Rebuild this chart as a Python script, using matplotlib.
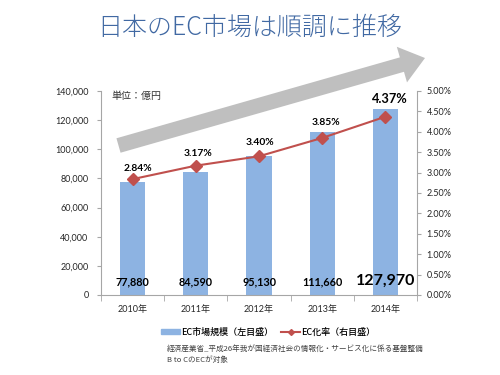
import matplotlib
matplotlib.use("Agg")
import matplotlib.pyplot as plt
from matplotlib.patches import FancyArrow, Patch
from matplotlib.lines import Line2D
from matplotlib.transforms import IdentityTransform
from matplotlib.ticker import FuncFormatter, MultipleLocator
import numpy as np

plt.rcParams['font.family'] = ['Lato', 'Noto Sans CJK JP', 'DejaVu Sans']

years = ["2010年", "2011年", "2012年", "2013年", "2014年"]
market = [77880, 84590, 95130, 111660, 127970]
market_labels = ["77,880", "84,590", "95,130", "111,660", "127,970"]
rate = [2.84, 3.17, 3.40, 3.85, 4.37]
rate_labels = ["2.84%", "3.17%", "3.40%", "3.85%", "4.37%"]
# label offsets (pixels): x, y above marker
rate_off = [(5, 11), (2, 12), (1, 14), (4, 15), (4, 18)]

BLUE = "#8DB3E2"
RED = "#C0504D"
GRAY = "#A6A6A6"

fig = plt.figure(figsize=(5, 3.75), dpi=100)
ax = fig.add_axes([101/500, 1-295/375, 316/500, 204/375])
x = np.arange(len(years))
ax.bar(x, market, width=0.4, color=BLUE, zorder=2)
ax.set_xlim(-0.5, 4.5)
ax.set_ylim(0, 140000)
ax.yaxis.set_major_locator(MultipleLocator(20000))
ax.yaxis.set_major_formatter(FuncFormatter(lambda v, p: f"{int(v):,}"))
ax.set_xticks(x)
ax.set_xticklabels(years, fontsize=6.5, color="#262626")
ax.set_xticks(np.arange(-0.5, 5, 1), minor=True)
ax.tick_params(axis='x', which='major', length=0, pad=7)
ax.tick_params(axis='x', which='minor', length=4, color=GRAY, direction='out')
ax.tick_params(axis='y', length=3, color=GRAY, labelsize=6.5, pad=6, labelcolor="#262626")
for s in ['top', 'right']:
    ax.spines[s].set_visible(False)
for s in ['left', 'bottom']:
    ax.spines[s].set_color(GRAY)
    ax.spines[s].set_linewidth(0.8)

for i, (v, lab) in enumerate(zip(market, market_labels)):
    big = i == len(market) - 1
    ax.annotate(lab, (x[i], 0), xytext=(0, 9.5 if not big else 10), textcoords='offset points',
                ha='center', va='center', fontsize=11.5 if big else 7.8,
                fontweight='bold', color='black', zorder=5)

ax.text(111/500, 1-96/375, "単位：億円", transform=fig.transFigure, fontsize=7.2,
        color="#333333", va='center', ha='left', family=['Noto Sans CJK JP'])

ax2 = ax.twinx()
ax2.set_position(ax.get_position())
ax2.set_ylim(0, 5)
ax2.yaxis.set_major_locator(MultipleLocator(0.5))
ax2.yaxis.set_major_formatter(FuncFormatter(lambda v, p: f"{v:.2f}%"))
ax2.tick_params(axis='y', length=3, color=GRAY, labelsize=6.5, pad=4, labelcolor="#262626")
for s in ['top', 'left', 'bottom']:
    ax2.spines[s].set_visible(False)
ax2.spines['right'].set_color(GRAY)
ax2.spines['right'].set_linewidth(0.8)
ax2.plot(x, rate, color=RED, lw=1.5, marker='D', markersize=6, zorder=3)
for i, (v, lab) in enumerate(zip(rate, rate_labels)):
    big = i == len(rate) - 1
    ox, oy = rate_off[i]
    ax2.annotate(lab, (x[i], v), xytext=(ox*0.72, oy*0.72), textcoords='offset points',
                 ha='center', va='center', fontsize=9.2 if big else 7.4,
                 fontweight='bold', color='black')

# legend
handles = [Patch(color=BLUE), Line2D([], [], color=RED, lw=1.5, marker='D', markersize=3)]
fig.legend(handles, ["EC市場規模（左目盛）", "EC化率（右目盛）"], loc='center',
           bbox_to_anchor=(268/500, 1-332/375), ncol=2, frameon=False,
           handlelength=2.2, handleheight=0.5, columnspacing=0.8, handletextpad=0.1,
           prop={'family': ['Noto Sans CJK JP'], 'size': 6.5, 'weight': 'medium'})

fig.text(167/500, 1-349/375, "経済産業省_平成26年我が国経済社会の情報化・サービス化に係る基盤整備",
         fontsize=5.5, color="#404040", va='center', ha='left', family=['Noto Sans CJK JP'])
fig.text(167/500, 1-360/375, "B to CのECが対象",
         fontsize=5.5, color="#404040", va='center', ha='left', family=['Noto Sans CJK JP'])

fig.text(250/500, 1-28/375, "日本のEC市場は順調に推移", fontsize=18, color="#4169A3",
         ha='center', va='center', family=['Noto Sans CJK JP'], fontweight='light')

arrow = FancyArrow(118.5, 375-145.5, 306.5, 87.5, width=15, head_width=37, head_length=24,
                   length_includes_head=True, color="#BFBFBF", lw=0,
                   transform=IdentityTransform())
fig.patches.append(arrow)

fig.savefig("out.png", dpi=100)
